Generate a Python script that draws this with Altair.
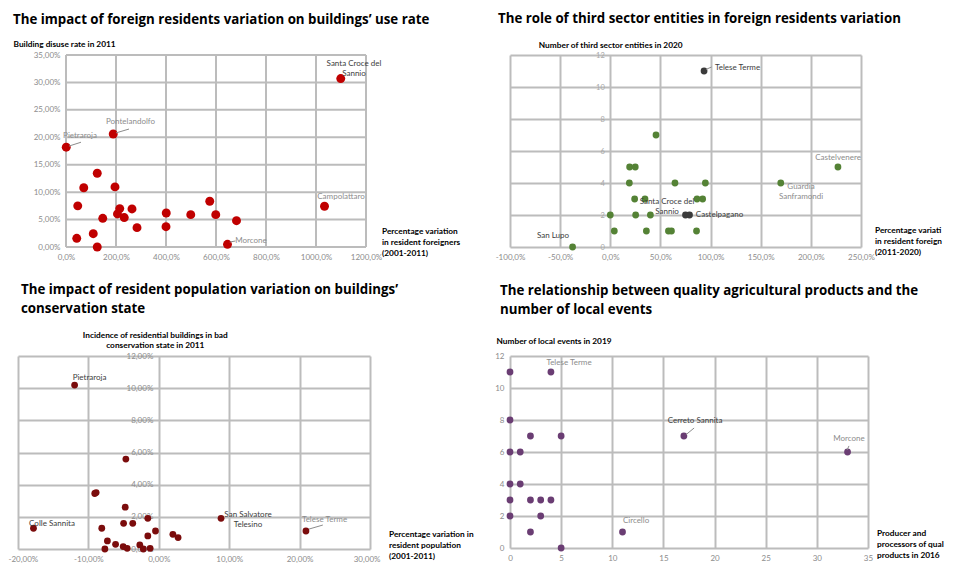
import altair as alt
import pandas as pd

FONT = "Lato"
TFONT = "Open Sans"
GRID = "#bcbcbc"
LIGHT = "#8c8c8c"
DARK = "#3c3c3c"

# ---------------- Panel 1 ----------------
p1_title = "The impact of foreign residents variation on buildings’ use rate"
p1_ytitle = "Building disuse rate in 2011"
p1_xtitle = ["Percentage variation", "in resident foreigners", "(2001-2011)"]
p1_xticks = [0, 200, 400, 600, 800, 1000, 1200]
p1_yticks = [0, 5, 10, 15, 20, 25, 30, 35]
p1_x = [1099, 189, 1, 125, 71, 196, 47, 215, 264, 206, 233, 147, 284, 401, 400,
        499, 575, 599, 682, 1034, 646, 43, 109, 125]
p1_y = [30.7, 20.6, 18.2, 13.45, 10.8, 10.96, 7.5, 7.0, 6.94, 6.03, 5.36, 5.23,
        3.53, 6.2, 3.7, 5.9, 8.34, 5.9, 4.8, 7.43, 0.49, 1.58, 2.43, 0.0]
p1_lab_text = ["Santa Croce del\nSannio", "Pontelandolfo", "Pietraroja", "Campolattaro", "Morcone"]
p1_lab_x = [1152, 258, 56, 1100, 740]
p1_lab_y = [33.3, 22.8, 20.2, 9.1, 1.1]
p1_lab_tone = ["dark", "light", "light", "light", "light"]
p1_lead_x = [200, 12, 655]
p1_lead_y = [20.8, 18.4, 0.9]
p1_lead_x2 = [252, 60, 678]
p1_lead_y2 = [21.5, 19.1, 1.1]

# ---------------- Panel 2 ----------------
p2_title = "The role of third sector entities in foreign residents variation"
p2_ytitle = "Number of third sector entities in 2020"
p2_xtitle = ["Percentage variation", "in resident foreigners", "(2011-2020)"]
p2_xticks = [-100, -50, 0, 50, 100, 150, 200, 250]
p2_yticks = [0, 2, 4, 6, 8, 10, 12]
p2_x = [93.5, 45.6, 19.3, 24.9, 19.0, 64.5, 94.8, 227, 170, 24.3, 34.6, 86.5,
        92.1, 0, 25.3, 40, 75, 79, 4, 36, 58, 61, 86, -37.6]
p2_y = [11, 7, 5, 5, 4, 4, 4, 5, 4, 3, 3, 3, 3, 2, 2, 2, 2, 2, 1, 1, 1, 1, 1, 0]
p2_grp = ["focus", "base", "base", "base", "base", "base", "base", "base", "base",
          "base", "base", "base", "base", "base", "base", "base", "focus", "focus",
          "base", "base", "base", "base", "base", "base"]
p2_lab_text = ["Telese Terme", "Castelvenere", "Guardia\nSanframondi",
               "Santa Croce del\nSannio", "Castelpagano", "San Lupo"]
p2_lab_x = [126.9, 227.1, 190.2, 56.6, 108.9, -57.1]
p2_lab_y = [11.19, 5.56, 3.72, 2.81, 2.0, 0.69]
p2_lab_tone = ["dark", "light", "light", "dark", "dark", "dark"]
p2_lead_x = [95.5]
p2_lead_y = [11.1]
p2_lead_x2 = [101.0]
p2_lead_y2 = [11.25]

# ---------------- Panel 3 ----------------
p3_title = ["The impact of resident population variation on buildings’", "conservation state"]
p3_ytitle = ["Incidence of residential buildings in bad", "conservation state in 2011"]
p3_xtitle = ["Percentage variation  in", "resident  population", "(2001-2011)"]
p3_xticks = [-20, -10, 0, 10, 20, 30]
p3_yticks = [0, 2, 4, 6, 8, 10, 12]
p3_x = [-11.96, -4.68, -9.1, -8.9, -4.77, -17.8, -8.1, -5.0, -3.7, -1.56, -0.47,
        -1.56, 2.0, 2.74, 8.84, 20.9, -7.3, -7.66, -6.14, -5.06, -4.49, -2.7, -2.2, -1.23]
p3_y = [10.19, 5.59, 3.45, 3.51, 2.6, 1.29, 1.29, 1.6, 1.6, 1.91, 1.12, 0.81, 0.91,
        0.71, 1.91, 1.12, 0.5, 0.0, 0.29, 0.15, 0.04, 0.25, 0.0, 0.04]
p3_lab_text = ["Pietraroja", "Colle Sannita", "San Salvatore\nTelesino", "Telese Terme"]
p3_lab_x = [-9.84, -15.17, 12.67, 23.54]
p3_lab_y = [10.63, 1.55, 2.11, 1.80]
p3_lab_tone = ["dark", "dark", "dark", "light"]
p3_lead_x = [21.34]
p3_lead_y = [1.24]
p3_lead_x2 = [23.3]
p3_lead_y2 = [1.49]

# ---------------- Panel 4 ----------------
p4_title = ["The relationship between quality agricultural products and the", "number  of local events"]
p4_ytitle = "Number of local events in 2019"
p4_xtitle = ["Producer and", "processors of quality", "products in 2016"]
p4_xticks = [0, 5, 10, 15, 20, 25, 30, 35]
p4_yticks = [0, 2, 4, 6, 8, 10, 12]
p4_x = [0, 4, 0, 2, 5, 17, 0, 1, 33, 0, 1, 0, 2, 3, 4, 0, 3, 2, 11, 5]
p4_y = [11, 11, 8, 7, 7, 7, 6, 6, 6, 4, 4, 3, 3, 3, 3, 2, 2, 1, 1, 0]
p4_lab_text = ["Telese Terme", "Cerreto Sannita", "Morcone", "Circello"]
p4_lab_x = [5.77, 18.09, 33.14, 12.32]
p4_lab_y = [11.56, 7.94, 6.81, 1.69]
p4_lab_tone = ["light", "dark", "light", "light"]
p4_lead_x = [17.2, 32.95]
p4_lead_y = [7.08, 6.12]
p4_lead_x2 = [18.0, 33.14]
p4_lead_y2 = [7.5, 6.38]


def pct(dec):
    return ("replace(replace(format(datum.value, '.%df'), '.', ','), '\u2212', '-') + '%%'" % dec)


def ttl(text, dx, offset):
    return alt.TitleParams(text=text, anchor="start", frame="group", dx=dx, offset=offset,
                           font=TFONT, fontSize=13.3, fontWeight="bold", color="black",
                           lineHeight=19)


def labels_layer(text, lx, ly, tone, sx, sy):
    df = pd.DataFrame({"x": lx, "y": ly, "t": text, "tone": tone})
    return alt.Chart(df).mark_text(font=FONT, fontSize=8, lineBreak="\n", lineHeight=10,
                                   align="center", baseline="middle").encode(
        x=alt.X("x:Q", scale=sx),
        y=alt.Y("y:Q", scale=sy),
        text="t:N",
        color=alt.Color("tone:N", scale=alt.Scale(domain=["dark", "light"], range=[DARK, LIGHT]),
                        legend=None))


def leaders_layer(x, y, x2, y2, sx, sy):
    df = pd.DataFrame({"x": x, "y": y, "x2": x2, "y2": y2})
    return alt.Chart(df).mark_rule(color=LIGHT, strokeWidth=1).encode(
        x=alt.X("x:Q", scale=sx), y=alt.Y("y:Q", scale=sy),
        x2="x2:Q", y2="y2:Q")


def xtitle_layer(lines, xend, ystart, sx, sy, dx, dy, limit):
    df = pd.DataFrame({"t": ["\n".join(lines)]})
    return alt.Chart(df).mark_text(
        font=FONT, fontSize=8.3, fontWeight="bold", color="black", align="left",
        baseline="top", lineBreak="\n", lineHeight=10.8, dx=dx, dy=dy, limit=limit,
        ellipsis="\u200b").encode(
        x=alt.X(datum=xend, scale=sx), y=alt.Y(datum=ystart, scale=sy), text="t:N")


def xaxis(values, expr=None, grid=True, flush=False):
    kw = dict(values=values, tickCount=len(values), title=None, grid=grid, labelOverlap=False,
              labelFlush=flush)
    if flush:
        kw["labelFlushOffset"] = 10
    if expr:
        kw["labelExpr"] = expr
    return alt.Axis(**kw)


def yaxis(values, title, tx, ty, expr, grid=True, offset=0, align="left",
          baseline="middle", **extra):
    kw = dict(values=values, tickCount=len(values), title=title, grid=grid, labelOverlap=False,
              offset=offset, titleAngle=0, titleAlign=align, titleBaseline=baseline,
              titleX=tx, titleY=ty, titleAnchor="start", titleLineHeight=10, labelExpr=expr)
    kw.update(extra)
    return alt.Axis(**kw)


INT = "format(datum.value, 'd')"

# ---- Panel 1 (grid drawn as rules so the plot can sit right of its column start)
sx1 = alt.Scale(domain=[-192, 1200], nice=False, zero=False)
sy1 = alt.Scale(domain=[0, 35], nice=False, zero=False)
g1v = alt.Chart(pd.DataFrame({"x": p1_xticks})).mark_rule(color=GRID, strokeWidth=2).encode(
    x=alt.X("x:Q", scale=sx1),
    y=alt.Y(datum=p1_yticks[0], scale=sy1), y2=alt.Y2(datum=p1_yticks[-1]))
g1h = alt.Chart(pd.DataFrame({"y": p1_yticks})).mark_rule(color=GRID, strokeWidth=2).encode(
    y=alt.Y("y:Q", scale=sy1),
    x=alt.X(datum=p1_xticks[0], scale=sx1), x2=alt.X2(datum=p1_xticks[-1]))
pts1 = alt.Chart(pd.DataFrame({"x": p1_x, "y": p1_y})).mark_circle(
    size=80, color="#c00000", opacity=1).encode(
    x=alt.X("x:Q", scale=sx1, axis=xaxis(p1_xticks, pct(1), grid=False)),
    y=alt.Y("y:Q", scale=sy1, axis=yaxis(p1_yticks, p1_ytitle, -53, -11, pct(2), grid=False,
                                          offset=-48)))
L1 = alt.layer(g1v, g1h, pts1,
               leaders_layer(p1_lead_x, p1_lead_y, p1_lead_x2, p1_lead_y2, sx1, sy1),
               labels_layer(p1_lab_text, p1_lab_x, p1_lab_y, p1_lab_tone, sx1, sy1),
               xtitle_layer(p1_xtitle, p1_xticks[-1], p1_yticks[0], sx1, sy1, 16, -20, 0)
               ).properties(width=348, height=192, title=ttl(p1_title, -5, 13))

# ---- Panel 2
sx2 = alt.Scale(domain=[-100, 250], nice=False, zero=False)
sy2 = alt.Scale(domain=[0, 12], nice=False, zero=False)
pts2 = alt.Chart(pd.DataFrame({"x": p2_x, "y": p2_y, "grp": p2_grp})).mark_circle(
    size=46, opacity=1).encode(
    x=alt.X("x:Q", scale=sx2, axis=xaxis(p2_xticks, pct(1))),
    y=alt.Y("y:Q", scale=sy2, axis=yaxis(p2_yticks, p2_ytitle, -72, -10, INT, offset=-100.3,
                                          labelColor="#a8a8a8", labelFontSize=7.5)),
    color=alt.Color("grp:N", scale=alt.Scale(domain=["base", "focus"], range=["#548235", "#3b3b3b"]),
                    legend=None))
L2 = alt.layer(pts2,
               leaders_layer(p2_lead_x, p2_lead_y, p2_lead_x2, p2_lead_y2, sx2, sy2),
               labels_layer(p2_lab_text, p2_lab_x, p2_lab_y, p2_lab_tone, sx2, sy2),
               xtitle_layer(p2_xtitle, p2_xticks[-1], p2_yticks[0], sx2, sy2, 14, -21, 70)
               ).resolve_scale(color="independent").properties(
    width=351, height=192, title=ttl(p2_title, -12, 15))

# ---- Panel 3
sx3 = alt.Scale(domain=[-20, 30], nice=False, zero=False)
sy3 = alt.Scale(domain=[0, 12], nice=False, zero=False)
pts3 = alt.Chart(pd.DataFrame({"x": p3_x, "y": p3_y})).mark_circle(
    size=46, color="#7b0c0c", opacity=1).encode(
    x=alt.X("x:Q", scale=sx3, axis=xaxis(p3_xticks, pct(2), flush=True)),
    y=alt.Y("y:Q", scale=sy3, axis=yaxis(p3_yticks, p3_ytitle, -4, -26, pct(2), offset=-140.8,
                                          align="center", baseline="top")))
L3 = alt.layer(pts3,
               leaders_layer(p3_lead_x, p3_lead_y, p3_lead_x2, p3_lead_y2, sx3, sy3),
               labels_layer(p3_lab_text, p3_lab_x, p3_lab_y, p3_lab_tone, sx3, sy3),
               xtitle_layer(p3_xtitle, p3_xticks[-1], p3_yticks[0], sx3, sy3, 19, -19, 0)
               ).properties(width=352, height=193, title=ttl(p3_title, 3, 15))

# ---- Panel 4
sx4 = alt.Scale(domain=[0, 35], nice=False, zero=False)
sy4 = alt.Scale(domain=[0, 12], nice=False, zero=False)
pts4 = alt.Chart(pd.DataFrame({"x": p4_x, "y": p4_y})).mark_circle(
    size=46, color="#6a3d73", opacity=1).encode(
    x=alt.X("x:Q", scale=sx4, axis=xaxis(p4_xticks, INT)),
    y=alt.Y("y:Q", scale=sy4, axis=yaxis(p4_yticks, p4_ytitle, -14, -15, INT)))
L4 = alt.layer(pts4,
               leaders_layer(p4_lead_x, p4_lead_y, p4_lead_x2, p4_lead_y2, sx4, sy4),
               labels_layer(p4_lab_text, p4_lab_x, p4_lab_y, p4_lab_tone, sx4, sy4),
               xtitle_layer(p4_xtitle, p4_xticks[-1], p4_yticks[0], sx4, sy4, 9, -19, 68)
               ).properties(width=358, height=192, title=ttl(p4_title, -10, 20))

chart = alt.concat(L1, L2, L3, L4, columns=2, spacing={"row": 109, "column": 140},
                   bounds="flush").configure_view(stroke=None).configure_axis(
    labelFont=FONT, labelFontSize=8, labelColor=LIGHT, labelPadding=6,
    titleFont=FONT, titleFontSize=8.3, titleFontWeight="bold", titleColor="black",
    domain=False, ticks=False, gridColor=GRID, gridWidth=2, labelFlush=False,
    labelOverlap=False, zindex=0
).properties(padding={"left": 0, "top": 3, "right": 0, "bottom": 0})

chart.save("out.html", embed_options={"renderer": "svg", "actions": False})
